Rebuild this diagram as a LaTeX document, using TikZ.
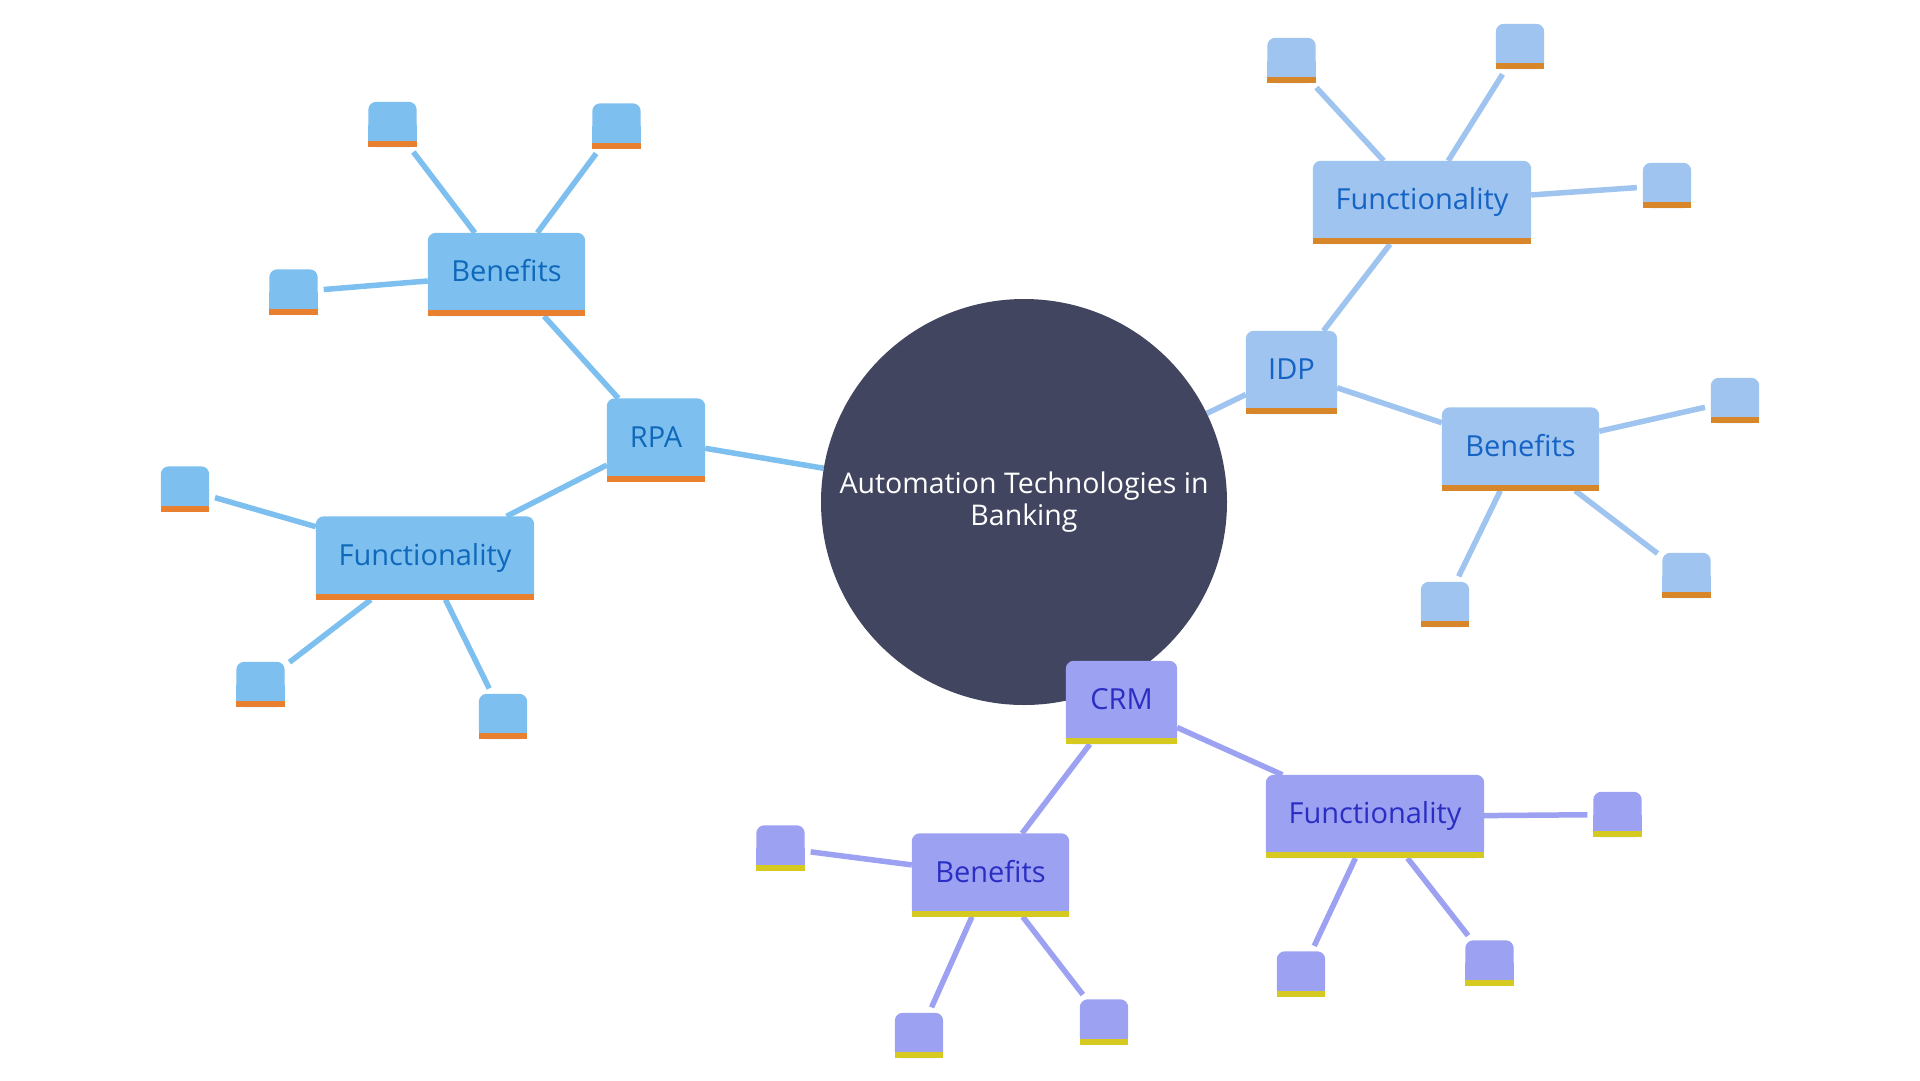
\documentclass[tikz,border=0pt]{standalone}
\usepackage{fontspec}
\setmainfont{Open Sans}
\pgfdeclarelayer{edgelayer}
\pgfdeclarelayer{filllayer}
\pgfsetlayers{edgelayer,filllayer,main}
\definecolor{rpaF}{HTML}{7DC0F0}
\definecolor{rpaB}{HTML}{E8802F}
\definecolor{rpaT}{HTML}{0F68BA}
\definecolor{idpF}{HTML}{9EC4EF}
\definecolor{idpB}{HTML}{D8862A}
\definecolor{idpT}{HTML}{1563C4}
\definecolor{crmF}{HTML}{9CA1F2}
\definecolor{crmB}{HTML}{D6CA20}
\definecolor{crmT}{HTML}{2B2EC2}
\definecolor{hubC}{HTML}{414560}
\tikzset{
  mainbox/.style={inner sep=0pt, minimum height=83pt, text=#1,
    text height=21pt, text depth=7pt,
    font=\fontsize{29}{32}\selectfont},
  leafbox/.style={inner sep=0pt, minimum width=48pt, minimum height=45pt},
  link/.style={line width=5.5pt, draw=#1},
  leaflink/.style={line width=5.5pt, draw=#1, shorten >=6pt},
}
\newcommand\boxfill[3]{%
  \fill[#2,rounded corners=8pt] (#1.south west) rectangle (#1.north east);
  \fill[#2] (#1.south west) rectangle (#1.east);
  \fill[#3] (#1.south west) rectangle ([yshift=6pt]#1.south east);}
\begin{document}
\begin{tikzpicture}[x=1pt,y=-1pt]
\useasboundingbox (0,0) rectangle (1920,1080);
\begin{pgfonlayer}{edgelayer}
\fill[white] (0,0) rectangle (1920,1080);
\end{pgfonlayer}
% hub
\node[circle, minimum size=406pt, inner sep=0pt, text=white,
  align=center, font=\fontsize{28.5}{32}\selectfont] (hub) at (1024,502)
  {Automation Technologies in\\Banking};
% RPA branch
\node[mainbox=rpaT, minimum width=98pt] (rpa) at (656,440) {RPA};
\node[mainbox=rpaT, minimum width=157pt] (rben) at (506.5,274.5) {Benefits};
\node[mainbox=rpaT, minimum width=218pt] (rfun) at (425,558) {Functionality};
\node[leafbox] (rb1) at (392.5,124.5) {};
\node[leafbox] (rb2) at (616.5,126) {};
\node[leafbox] (rb3) at (293.5,292) {};
\node[leafbox] (rf1) at (185,489) {};
\node[leafbox] (rf2) at (260.5,684.5) {};
\node[leafbox] (rf3) at (503,716.5) {};
% IDP branch
\node[mainbox=idpT, minimum width=91pt] (idp) at (1291.5,372.5) {IDP};
\node[mainbox=idpT, minimum width=218pt] (ifun) at (1422,202.5) {Functionality};
\node[mainbox=idpT, minimum width=157pt] (iben) at (1520.5,449) {Benefits};
\node[leafbox] (if1) at (1291.5,60.5) {};
\node[leafbox] (if2) at (1520,46.5) {};
\node[leafbox] (if3) at (1667,185.5) {};
\node[leafbox] (ib1) at (1735,400.5) {};
\node[leafbox] (ib2) at (1686.5,575.5) {};
\node[leafbox] (ib3) at (1445,604.5) {};
% CRM branch
\node[mainbox=crmT, minimum width=111pt] (crm) at (1121.5,702.5) {CRM};
\node[mainbox=crmT, minimum width=218pt] (cfun) at (1375,816.5) {Functionality};
\node[mainbox=crmT, minimum width=157pt] (cben) at (990.5,875) {Benefits};
\node[leafbox] (cf1) at (1617.5,814.5) {};
\node[leafbox] (cf2) at (1489.5,963) {};
\node[leafbox] (cf3) at (1301,974) {};
\node[leafbox] (cb1) at (780.5,848) {};
\node[leafbox] (cb2) at (1104,1022) {};
\node[leafbox] (cb3) at (919,1035.5) {};
% connectors
\begin{pgfonlayer}{edgelayer}
\draw[link=rpaF] (hub) -- (rpa);
\draw[link=rpaF] (rpa) -- (rben);
\draw[link=rpaF] (rpa) -- (rfun);
\foreach \l in {rb1,rb2,rb3} \draw[leaflink=rpaF] (rben) -- (\l);
\foreach \l in {rf1,rf2,rf3} \draw[leaflink=rpaF] (rfun) -- (\l);
\draw[link=idpF] (hub) -- (idp);
\draw[link=idpF] (idp) -- (ifun);
\draw[link=idpF] (idp) -- (iben);
\foreach \l in {if1,if2,if3} \draw[leaflink=idpF] (ifun) -- (\l);
\foreach \l in {ib1,ib2,ib3} \draw[leaflink=idpF] (iben) -- (\l);
\draw[link=crmF] (hub) -- (crm);
\draw[link=crmF] (crm) -- (cfun);
\draw[link=crmF] (crm) -- (cben);
\foreach \l in {cf1,cf2,cf3} \draw[leaflink=crmF] (cfun) -- (\l);
\foreach \l in {cb1,cb2,cb3} \draw[leaflink=crmF] (cben) -- (\l);
\end{pgfonlayer}
% fills
\begin{pgfonlayer}{filllayer}
\fill[hubC] (hub.center) circle[radius=203];
\foreach \n in {rpa,rben,rfun,rb1,rb2,rb3,rf1,rf2,rf3} {\boxfill{\n}{rpaF}{rpaB}}
\foreach \n in {idp,ifun,iben,if1,if2,if3,ib1,ib2,ib3} {\boxfill{\n}{idpF}{idpB}}
\foreach \n in {crm,cfun,cben,cf1,cf2,cf3,cb1,cb2,cb3} {\boxfill{\n}{crmF}{crmB}}
\end{pgfonlayer}
\end{tikzpicture}
\end{document}
